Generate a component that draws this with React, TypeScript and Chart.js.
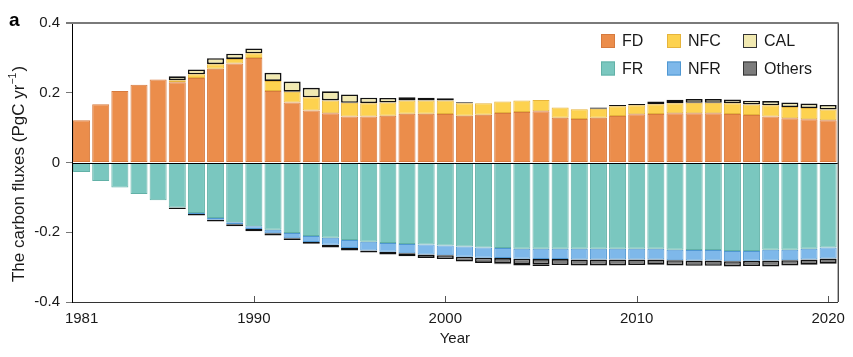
import React, { useEffect, useRef } from 'react';
import { Chart, registerables } from 'chart.js';

Chart.register(...registerables);

const years = [
  '1981', '1982', '1983', '1984', '1985', '1986', '1987', '1988', '1989', '1990',
  '1991', '1992', '1993', '1994', '1995', '1996', '1997', '1998', '1999', '2000',
  '2001', '2002', '2003', '2004', '2005', '2006', '2007', '2008', '2009', '2010',
  '2011', '2012', '2013', '2014', '2015', '2016', '2017', '2018', '2019', '2020',
];
const xLabelYears = ['1981', '1990', '2000', '2010', '2020'];
const xTickYears = ['1990', '2000', '2010', '2020'];

// Positive fluxes (PgC/yr)
const FD = [
  0.121, 0.167, 0.205, 0.223, 0.238, 0.230, 0.242, 0.269, 0.284, 0.300,
  0.205, 0.172, 0.149, 0.141, 0.132, 0.132, 0.134, 0.140, 0.140, 0.139,
  0.134, 0.137, 0.142, 0.145, 0.147, 0.128, 0.125, 0.128, 0.133, 0.138,
  0.139, 0.141, 0.141, 0.141, 0.139, 0.136, 0.132, 0.127, 0.124, 0.121,
];
const NFC = [
  null, null, null, null, null, 0.006, 0.011, 0.013, 0.013, 0.013,
  0.029, 0.031, 0.038, 0.037, 0.039, 0.038, 0.038, 0.038, 0.038, 0.039,
  0.036, 0.033, 0.033, 0.033, 0.032, 0.030, 0.028, 0.026, 0.028, 0.026,
  0.028, 0.029, 0.030, 0.030, 0.031, 0.030, 0.032, 0.032, 0.032, 0.031,
];
const CAL_POS = [
  null, null, null, null, null, 0.011, 0.014, 0.017, 0.015, 0.014,
  0.023, 0.029, 0.027, 0.026, 0.024, 0.016, 0.013, 0.009, 0.008, 0.006,
  0.003, null, null, null, null, null, null, null, null, null,
  null, 0.004, 0.011, 0.011, 0.011, 0.011, 0.012, 0.013, 0.013, 0.013,
];
const OTHERS_POS = [
  null, null, null, null, null, null, null, null, null, null,
  null, null, null, null, null, null, null, null, null, null,
  null, null, null, null, null, null, null, 0.004, 0.004, 0.004,
  0.008, 0.006, null, null, null, null, null, null, null, null,
];

// Negative fluxes (PgC/yr)
const FR = [
  -0.027, -0.053, -0.072, -0.090, -0.108, -0.129, -0.145, -0.159, -0.171, -0.183,
  -0.193, -0.202, -0.211, -0.216, -0.222, -0.227, -0.231, -0.234, -0.235, -0.238,
  -0.241, -0.244, -0.245, -0.247, -0.247, -0.247, -0.247, -0.247, -0.247, -0.247,
  -0.247, -0.250, -0.251, -0.251, -0.254, -0.254, -0.250, -0.250, -0.247, -0.244,
];
const NFR = [
  null, null, null, null, null, null, -0.003, -0.005, -0.006, -0.008,
  -0.010, -0.015, -0.017, -0.020, -0.023, -0.025, -0.025, -0.026, -0.029, -0.028,
  -0.029, -0.029, -0.029, -0.029, -0.030, -0.030, -0.031, -0.031, -0.031, -0.031,
  -0.031, -0.030, -0.030, -0.030, -0.029, -0.028, -0.031, -0.030, -0.031, -0.031,
];
const OTHERS_NEG = [
  null, null, null, null, null, -0.004, -0.004, -0.005, -0.006, -0.006,
  -0.006, -0.005, -0.005, -0.008, -0.007, -0.006, -0.008, -0.009, -0.010, -0.011,
  -0.014, -0.015, -0.016, -0.015, -0.015, -0.017, -0.017, -0.017, -0.017, -0.016,
  -0.015, -0.015, -0.015, -0.015, -0.015, -0.015, -0.017, -0.015, -0.015, -0.015,
];
const CAL_NEG = [
  null, null, null, null, null, null, null, null, null, null,
  null, null, null, null, null, null, null, null, null, null,
  null, null, -0.002, -0.004, -0.005, null, null, null, null, null,
  null, null, null, null, null, null, null, null, null, null,
];

const yTicks = [-0.4, -0.2, 0, 0.2, 0.4];

const FILL = {
  FD: '#EB8D4B',
  NFC: '#FDD24F',
  CAL: '#F1E9B1',
  FR: '#7AC7BF',
  NFR: '#7EB8EA',
  Others: '#7C7C7C',
};
const EDGE = {
  FD: '#D67A3E',
  NFC: '#E6B43C',
  CAL: '#111111',
  FR: '#62B1A7',
  NFR: '#4F97D2',
  Others: '#111111',
};

const legendRows = [
  ['FD', 'NFC', 'CAL'],
  ['FR', 'NFR', 'Others'],
];

const FONT = '"Liberation Sans", Arial, sans-serif';

const decorPlugin = {
  id: 'decor',
  afterDatasetsDraw(chart: any) {
    const { ctx, chartArea: ca, scales } = chart;
    const ys = scales.y;
    const xs = scales.x;
    ctx.save();
    const y0 = Math.round(ys.getPixelForValue(0)) + 0.5;
    ctx.strokeStyle = '#000';
    ctx.lineWidth = 1;
    ctx.beginPath();
    ctx.moveTo(ca.left, y0);
    ctx.lineTo(ca.right, y0);
    ctx.stroke();
    ctx.beginPath();
    ctx.moveTo(ca.right + 0.5, ca.top);
    ctx.lineTo(ca.right + 0.5, ca.bottom);
    ctx.stroke();
    ctx.strokeStyle = '#7a7a7a';
    ctx.lineWidth = 2;
    ctx.beginPath();
    ctx.moveTo(ca.left - 6, ca.top);
    ctx.lineTo(ca.right + 1, ca.top);
    ctx.stroke();
    ctx.strokeStyle = '#555';
    ctx.lineWidth = 1;
    xTickYears.forEach((yr) => {
      const idx = years.indexOf(yr);
      const px = Math.round(xs.getPixelForValue(idx)) + 0.5;
      ctx.beginPath();
      ctx.moveTo(px, ca.bottom);
      ctx.lineTo(px, ca.bottom - 6);
      ctx.stroke();
    });
    ctx.restore();
  },
  afterDraw(chart: any) {
    const { ctx, chartArea: ca } = chart;
    ctx.save();
    ctx.fillStyle = '#000';
    ctx.font = `bold 19px ${FONT}`;
    ctx.textAlign = 'left';
    ctx.textBaseline = 'alphabetic';
    ctx.fillText('a', 9, 26);

    const colX = [601, 667, 743];
    const rowY = [41, 68.5];
    ctx.font = `16px ${FONT}`;
    ctx.textBaseline = 'middle';
    legendRows.forEach((row, r) => {
      row.forEach((name, c) => {
        const bx = colX[c];
        const by = rowY[r] - 7;
        ctx.fillStyle = (FILL as any)[name];
        ctx.fillRect(bx, by, 14, 14);
        ctx.strokeStyle = name === 'CAL' || name === 'Others' ? '#333' : (EDGE as any)[name];
        ctx.lineWidth = 1;
        ctx.strokeRect(bx + 0.5, by + 0.5, 13, 13);
        ctx.fillStyle = '#1a1a1a';
        ctx.fillText(name, bx + 21, rowY[r] + 1);
      });
    });

    ctx.textAlign = 'center';
    ctx.font = `15px ${FONT}`;
    ctx.fillStyle = '#1a1a1a';
    ctx.fillText('Year', (ca.left + ca.right) / 2, 339);

    ctx.translate(19, 174);
    ctx.rotate(-Math.PI / 2);
    const f1 = `17px ${FONT}`;
    const f2 = `10.5px ${FONT}`;
    const partA = 'The carbon fluxes (PgC yr';
    const sup = '\u22121';
    const partB = ')';
    ctx.font = f1;
    const wA = ctx.measureText(partA).width;
    const wB = ctx.measureText(partB).width;
    ctx.font = f2;
    const wS = ctx.measureText(sup).width;
    const total = wA + wS + wB + 1;
    let cx = -total / 2;
    ctx.textAlign = 'left';
    ctx.textBaseline = 'middle';
    ctx.font = f1;
    ctx.fillText(partA, cx, 0);
    cx += wA;
    ctx.font = f2;
    ctx.fillText(sup, cx, -6);
    cx += wS + 1;
    ctx.font = f1;
    ctx.fillText(partB, cx, 0);
    ctx.restore();
  },
};

function ds(label: string, data: (number | null)[], key: keyof typeof FILL, boxed: boolean) {
  return {
    label,
    data,
    backgroundColor: FILL[key],
    borderColor: EDGE[key],
    borderWidth: boxed ? 1.6 : 1,
    borderSkipped: false,
    barPercentage: 0.89,
    categoryPercentage: 1.0,
  };
}

export default function App() {
  const canvasRef = useRef<HTMLCanvasElement | null>(null);

  useEffect(() => {
    if (!canvasRef.current) return;
    const chart = new Chart(canvasRef.current, {
      type: 'bar',
      data: {
        labels: years,
        datasets: [
          ds('FD', FD, 'FD', false),
          ds('FR', FR, 'FR', false),
          ds('NFC', NFC, 'NFC', false),
          ds('NFR', NFR, 'NFR', false),
          ds('Others', OTHERS_NEG, 'Others', true),
          ds('Others (+)', OTHERS_POS, 'Others', true),
          ds('CAL', CAL_POS, 'CAL', true),
          ds('CAL (-)', CAL_NEG, 'CAL', true),
        ] as any,
      },
      options: {
        animation: false,
        responsive: true,
        maintainAspectRatio: false,
        layout: { padding: { left: 0, top: 23, right: 14, bottom: 0 } },
        plugins: {
          legend: { display: false },
          tooltip: { enabled: false },
        },
        scales: {
          x: {
            stacked: true,
            grid: { display: false, drawTicks: false },
            border: { display: true, color: '#333', width: 1 },
            ticks: {
              autoSkip: false,
              maxRotation: 0,
              padding: 8,
              color: '#1a1a1a',
              font: { family: FONT, size: 15 },
              callback: (v: any) => (xLabelYears.includes(years[v]) ? years[v] : ''),
            },
            afterFit: (s: any) => {
              s.height = 55;
            },
          },
          y: {
            stacked: true,
            min: yTicks[0],
            max: yTicks[yTicks.length - 1],
            afterBuildTicks: (s: any) => {
              s.ticks = yTicks.map((v) => ({ value: v }));
            },
            grid: { drawOnChartArea: false, drawTicks: true, tickLength: 6, color: '#777' },
            border: { display: true, color: '#000', width: 1 },
            ticks: {
              padding: 6,
              color: '#1a1a1a',
              font: { family: FONT, size: 15 },
              callback: (v: any) => {
                const n = Math.round(Number(v) * 10) / 10;
                return n === 0 ? '0' : n.toFixed(1);
              },
            },
            afterFit: (s: any) => {
              s.width = 72;
            },
          },
        },
      },
      plugins: [decorPlugin],
    });
    return () => chart.destroy();
  }, []);

  return (
    <div style={{ position: 'absolute', left: 0, top: 0, width: 853, height: 357, background: '#fff' }}>
      <canvas ref={canvasRef} />
    </div>
  );
}
